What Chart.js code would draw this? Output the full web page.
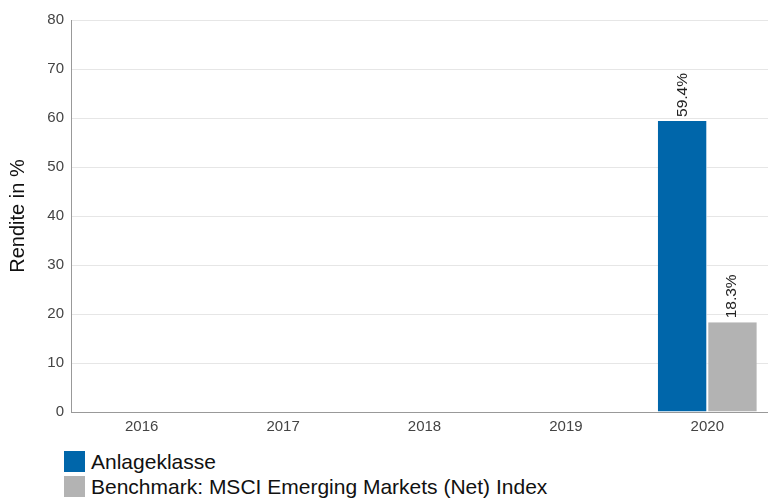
<!DOCTYPE html>
<html>
<head>
<meta charset="utf-8">
<script src="https://cdn.jsdelivr.net/npm/chart.js@4"></script>
<style>
  html, body { margin: 0; padding: 0; background: #fff; overflow: hidden; width: 768px; height: 500px; }
  #wrap { position: absolute; left: 0; top: 0; width: 778px; height: 440px; }
  #legend { position: absolute; left: 64px; top: 449px; font-family: "Liberation Sans", Arial, sans-serif; font-size: 21px; color: #111; }
  .item { display: flex; align-items: center; height: 25px; }
  .box { width: 21px; height: 21px; margin-right: 6px; flex: none; }
</style>
</head>
<body>
<div id="wrap"><canvas id="c"></canvas></div>
<div id="legend"></div>
<script>
const categories = ["2016", "2017", "2018", "2019", "2020"];
const seriesNames = ["Anlageklasse", "Benchmark: MSCI Emerging Markets (Net) Index"];
const anlageklasse = [null, null, null, null, 59.4];
const benchmark = [null, null, null, null, 18.3];
const seriesColors = ["#0066aa", "#b3b3b3"];
const yTitle = "Rendite in %";

const valueLabels = {
  id: "valueLabels",
  afterDatasetsDraw(chart) {
    const ctx = chart.ctx;
    ctx.save();
    ctx.font = "15.5px 'Liberation Sans', Arial, sans-serif";
    ctx.fillStyle = "#222";
    ctx.textAlign = "left";
    ctx.textBaseline = "middle";
    chart.data.datasets.forEach((ds, di) => {
      const meta = chart.getDatasetMeta(di);
      meta.data.forEach((bar, i) => {
        const v = ds.data[i];
        if (v === null || v === undefined) return;
        ctx.save();
        ctx.translate(bar.x, bar.y - 4);
        ctx.rotate(-Math.PI / 2);
        ctx.fillText(v.toFixed(1) + "%", 0, 0);
        ctx.restore();
      });
    });
    ctx.restore();
  }
};

const chart = new Chart(document.getElementById("c"), {
  type: "bar",
  data: {
    labels: categories,
    datasets: [
      { label: seriesNames[0], data: anlageklasse, backgroundColor: seriesColors[0], borderColor: "#ffffff", borderWidth: {left: 0, right: 1, top: 0, bottom: 0} },
      { label: seriesNames[1], data: benchmark, backgroundColor: seriesColors[1], borderColor: "#ffffff", borderWidth: {left: 1, right: 0, top: 0, bottom: 0} }
    ]
  },
  options: {
    responsive: true,
    maintainAspectRatio: false,
    animation: false,
    layout: { padding: { top: 20, right: 0, bottom: 0, left: 0 } },
    plugins: { legend: { display: false }, tooltip: { enabled: false } },
    datasets: { bar: { categoryPercentage: 0.7, barPercentage: 1.0 } },
    scales: {
      x: {
        grid: { display: false, drawTicks: false },
        border: { display: true, color: "#999999", width: 1 },
        ticks: { color: "#444", font: { family: "'Liberation Sans', Arial, sans-serif", size: 15 }, padding: 6, maxRotation: 0 },
        afterFit(scale) { scale.height = 28; }
      },
      y: {
        min: 0, max: 80,
        ticks: { stepSize: 10, color: "#444", font: { family: "'Liberation Sans', Arial, sans-serif", size: 15 }, padding: 7 },
        grid: { color: "#e6e6e6", drawTicks: false },
        border: { display: true, color: "#999999", width: 1 },
        title: { display: true, text: yTitle, color: "#111", font: { family: "'Liberation Sans', Arial, sans-serif", size: 20 }, padding: { top: 6, bottom: 0 } },
        afterFit(scale) { scale.width = 71; }
      }
    }
  },
  plugins: [valueLabels]
});

const legend = document.getElementById("legend");
chart.data.datasets.forEach(ds => {
  const item = document.createElement("div");
  item.className = "item";
  const box = document.createElement("span");
  box.className = "box";
  box.style.background = ds.backgroundColor;
  const txt = document.createElement("span");
  txt.textContent = ds.label;
  item.appendChild(box);
  item.appendChild(txt);
  legend.appendChild(item);
});
</script>
</body>
</html>
